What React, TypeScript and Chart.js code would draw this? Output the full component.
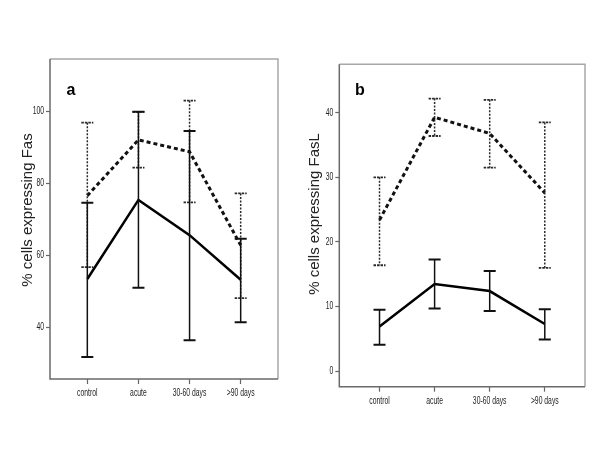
import React, { useEffect, useRef } from "react";
import { Chart, registerables } from "chart.js";

Chart.register(...registerables);

const categories = ["control", "acute", "30-60 days", ">90 days"];

// Panel a: % cells expressing Fas
const fasSolidMean = [53.4, 75.4, 65.6, 53.2];
const fasSolidUpper = [74.6, 99.9, 94.6, 64.6];
const fasSolidLower = [31.7, 51.0, 36.4, 41.4];
const fasDashedMean = [76.6, 92.1, 88.8, 62.8];
const fasDashedUpper = [96.9, 99.9, 103.0, 77.2];
const fasDashedLower = [56.7, 84.4, 74.7, 48.1];
const fasTicks = [40, 60, 80, 100];

// Panel b: % cells expressing FasL
const faslSolidMean = [6.9, 13.5, 12.4, 7.3];
const faslSolidUpper = [9.5, 17.3, 15.5, 9.6];
const faslSolidLower = [4.1, 9.7, 9.3, 4.9];
const faslDashedMean = [23.4, 39.3, 36.8, 27.6];
const faslDashedUpper = [30.0, 42.2, 42.0, 38.5];
const faslDashedLower = [16.4, 36.4, 31.5, 16.0];
const faslTicks = [0, 10, 20, 30, 40];

const FONT = "'Liberation Sans', Arial, sans-serif";

type PanelCfg = {
  letter: string;
  title: string;
  yMin: number;
  yMax: number;
  yTicks: number[];
  solid: { mean: number[]; upper: number[]; lower: number[] };
  dashed: { mean: number[]; upper: number[]; lower: number[] };
  yWidth: number;
  padTop: number;
  padRight: number;
  xHeight: number;
  xLabelOffset: number;
  letterX: number;
  letterY: number;
  titleX: number;
  titleY: number;
};

const panels: PanelCfg[] = [
  {
    letter: "a",
    title: "% cells expressing Fas",
    yMin: 25.6,
    yMax: 114.6,
    yTicks: fasTicks,
    solid: { mean: fasSolidMean, upper: fasSolidUpper, lower: fasSolidLower },
    dashed: { mean: fasDashedMean, upper: fasDashedUpper, lower: fasDashedLower },
    yWidth: 50,
    padTop: 59,
    padRight: 22,
    xHeight: 71,
    xLabelOffset: 14,
    letterX: 66.5,
    letterY: 94.5,
    titleX: 28,
    titleY: 210,
  },
  {
    letter: "b",
    title: "% cells expressing FasL",
    yMin: -2.4,
    yMax: 47.5,
    yTicks: faslTicks,
    solid: { mean: faslSolidMean, upper: faslSolidUpper, lower: faslSolidLower },
    dashed: { mean: faslDashedMean, upper: faslDashedUpper, lower: faslDashedLower },
    yWidth: 39.3,
    padTop: 64.3,
    padRight: 15,
    xHeight: 63.3,
    xLabelOffset: 15,
    letterX: 55,
    letterY: 95,
    titleX: 14.5,
    titleY: 214,
  },
];

const SQUEEZE = 0.68;

function Panel({ cfg, left }: { cfg: PanelCfg; left: number }) {
  const ref = useRef<HTMLCanvasElement | null>(null);

  useEffect(() => {
    if (!ref.current) return;

    const drawBars = (
      chart: any,
      s: { mean: number[]; upper: number[]; lower: number[] },
      dashed: boolean
    ) => {
      const ctx = chart.ctx as CanvasRenderingContext2D;
      const xs = chart.scales.x;
      const ys = chart.scales.y;
      ctx.save();
      ctx.strokeStyle = dashed ? "#2a2a2a" : "#111";
      ctx.lineCap = "butt";
      for (let i = 0; i < s.mean.length; i++) {
        const x = xs.getPixelForValue(i);
        const yu = ys.getPixelForValue(s.upper[i]);
        const yl = ys.getPixelForValue(s.lower[i]);
        ctx.setLineDash(dashed ? [2, 1.5] : []);
        ctx.lineWidth = 1.5;
        ctx.beginPath();
        ctx.moveTo(x, yu);
        ctx.lineTo(x, yl);
        ctx.stroke();
        ctx.lineWidth = dashed ? 1.8 : 2;
        ctx.setLineDash(dashed ? [2.5, 1] : []);
        ctx.beginPath();
        ctx.moveTo(x - 6, yu);
        ctx.lineTo(x + 6, yu);
        ctx.moveTo(x - 6, yl);
        ctx.lineTo(x + 6, yl);
        ctx.stroke();
      }
      ctx.restore();
    };

    const squeezedText = (
      ctx: CanvasRenderingContext2D,
      text: string,
      x: number,
      y: number,
      align: CanvasTextAlign
    ) => {
      ctx.save();
      ctx.translate(x, y);
      ctx.scale(SQUEEZE, 1);
      ctx.textAlign = align;
      ctx.textBaseline = "middle";
      ctx.fillText(text, 0, 0);
      ctx.restore();
    };

    const decor = {
      id: "decor" + cfg.letter,
      afterDatasetsDraw(chart: any) {
        drawBars(chart, cfg.dashed, true);
        drawBars(chart, cfg.solid, false);
      },
      afterDraw(chart: any) {
        const ctx = chart.ctx as CanvasRenderingContext2D;
        const a = chart.chartArea;
        const xs = chart.scales.x;
        const ys = chart.scales.y;
        ctx.save();
        ctx.setLineDash([]);
        ctx.lineWidth = 1.5;
        ctx.strokeStyle = "#a8a8a8";
        ctx.beginPath();
        ctx.moveTo(a.left, a.top);
        ctx.lineTo(a.right, a.top);
        ctx.lineTo(a.right, a.bottom);
        ctx.stroke();
        ctx.strokeStyle = "#6a6a6a";
        ctx.beginPath();
        ctx.moveTo(a.left, a.top);
        ctx.lineTo(a.left, a.bottom);
        ctx.lineTo(a.right, a.bottom);
        ctx.stroke();

        // tick labels, taken from the scales' own ticks
        ctx.fillStyle = "#222";
        ctx.font = "10px " + FONT;
        xs.ticks.forEach((t: any) => {
          const label = categories[Math.round(t.value)] ?? "";
          squeezedText(ctx, label, xs.getPixelForValue(t.value), a.bottom + cfg.xLabelOffset, "center");
        });
        ys.ticks.forEach((t: any) => {
          squeezedText(ctx, String(t.value), a.left - 6, ys.getPixelForValue(t.value), "right");
        });

        ctx.fillStyle = "#000";
        ctx.font = "bold 16px " + FONT;
        ctx.textAlign = "left";
        ctx.textBaseline = "alphabetic";
        ctx.fillText(cfg.letter, cfg.letterX, cfg.letterY);

        ctx.translate(cfg.titleX, cfg.titleY);
        ctx.rotate(-Math.PI / 2);
        ctx.font = "15px " + FONT;
        ctx.fillStyle = "#222";
        ctx.textAlign = "center";
        ctx.textBaseline = "middle";
        ctx.fillText(cfg.title, 0, 0);
        ctx.restore();
      },
    };

    const chart = new Chart(ref.current, {
      type: "line",
      data: {
        datasets: [
          {
            label: "dashed",
            data: cfg.dashed.mean.map((v, i) => ({ x: i, y: v })),
            borderColor: "#111",
            borderWidth: 3,
            borderDash: [4, 3],
            pointRadius: 0,
            fill: false,
            tension: 0,
          },
          {
            label: "solid",
            data: cfg.solid.mean.map((v, i) => ({ x: i, y: v })),
            borderColor: "#000",
            borderWidth: 2.5,
            pointRadius: 0,
            fill: false,
            tension: 0,
          },
        ],
      },
      options: {
        animation: false,
        responsive: false,
        maintainAspectRatio: false,
        layout: { padding: { left: 0, top: cfg.padTop, right: cfg.padRight, bottom: 0 } },
        plugins: { legend: { display: false }, tooltip: { enabled: false } },
        scales: {
          x: {
            type: "linear",
            min: -0.73,
            max: 3.73,
            afterBuildTicks: (scale: any) => {
              scale.ticks = categories.map((_, i) => ({ value: i }));
            },
            afterFit: (scale: any) => {
              scale.height = cfg.xHeight;
            },
            ticks: { display: false, autoSkip: false, maxRotation: 0 },
            grid: { drawOnChartArea: false, drawTicks: true, tickLength: 5, tickColor: "#666", tickWidth: 1.2 },
            border: { display: false },
          },
          y: {
            type: "linear",
            min: cfg.yMin,
            max: cfg.yMax,
            afterBuildTicks: (scale: any) => {
              scale.ticks = cfg.yTicks.map((v) => ({ value: v }));
            },
            afterFit: (scale: any) => {
              scale.width = cfg.yWidth;
            },
            ticks: { display: false },
            grid: { drawOnChartArea: false, drawTicks: true, tickLength: 4, tickColor: "#666", tickWidth: 1.2 },
            border: { display: false },
          },
        },
      },
      plugins: [decor],
    } as any);

    return () => chart.destroy();
  }, [cfg]);

  return (
    <canvas
      ref={ref}
      width={300}
      height={450}
      style={{ position: "absolute", left, top: 0, width: 300, height: 450 }}
    />
  );
}

export default function App() {
  return (
    <div
      style={{
        position: "fixed",
        left: 0,
        top: 0,
        width: 600,
        height: 450,
        background: "#fff",
        overflow: "hidden",
      }}
    >
      <Panel cfg={panels[0]} left={0} />
      <Panel cfg={panels[1]} left={300} />
    </div>
  );
}
